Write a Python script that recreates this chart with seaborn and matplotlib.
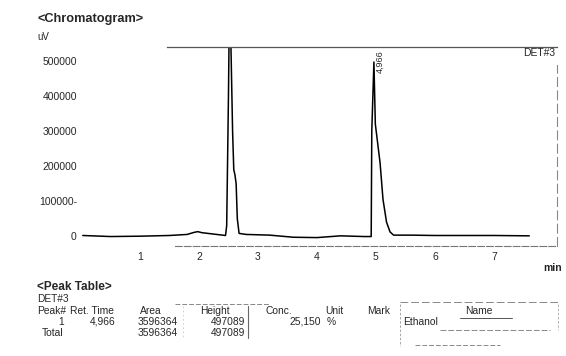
import numpy as np
import pandas as pd
import matplotlib
matplotlib.use("Agg")
import matplotlib.pyplot as plt
from matplotlib.lines import Line2D
import seaborn as sns

# ---- data ----
time_min = [0.03, 0.5, 1.0, 1.5, 1.8, 1.92, 1.98, 2.05, 2.2, 2.35, 2.45, 2.47, 2.50,
            2.51, 2.54, 2.57, 2.59, 2.61, 2.63, 2.65, 2.68, 2.8, 3.2, 3.6, 4.0, 4.4,
            4.8, 4.92, 4.93, 4.966, 4.99, 5.03, 5.07, 5.12, 5.18, 5.24, 5.3, 5.6,
            6.0, 6.5, 7.0, 7.6]
signal_uv = [2000, -1000, 0, 2000, 5000, 11000, 13000, 10000, 7000, 4000, 2000, 30000, 400000,
             560000, 560000, 300000, 190000, 175000, 150000, 50000, 8000, 5000, 3000, -3000, -4000, 1000,
             -1000, -1000, 300000, 497089, 320000, 265000, 210000, 105000, 40000, 12000, 3000, 3000,
             2000, 2000, 2000, 1000]

y_ticks = [0, 100000, 200000, 300000, 400000, 500000]
y_tick_labels = ["0", "100000-", "200000", "300000", "400000", "500000"]
x_ticks = [1, 2, 3, 4, 5, 6, 7]

peak_label = "4,966"
peak_time = 4.966
peak_height = 497089

table_headers = ["Peak#", "Ret. Time", "Area", "Height", "Conc.", "Unit", "Mark", "Name"]
row1 = ["1", "4,966", "3596364", "497089", "25,150", "%", "", "Ethanol"]
total_row = ["Total", "", "3596364", "497089"]

# ---- figure ----
sns.set_style("white")
plt.rcParams["font.family"] = ["Liberation Sans", "DejaVu Sans"]

W, H = 566, 356
fig = plt.figure(figsize=(W / 100, H / 100), dpi=100)

def fx(px):
    return px / W

def fy(py):
    return 1 - py / H

# axes: x=0 at px 81, right edge px 557; bottom px 246, top px 47
ax = fig.add_axes([fx(81), fy(246), fx(557) - fx(81), fy(47) - fy(246)])

df = pd.DataFrame({"t": time_min, "v": signal_uv})
sns.lineplot(data=df, x="t", y="v", ax=ax, color="black", lw=1.1,
             estimator=None, sort=False)

ax.set_xlim(0, 8.07)
ax.set_ylim(-28000, 540000)
ax.set_xlabel("")
ax.set_ylabel("")

ax.set_yticks(y_ticks)
ax.set_yticklabels(y_tick_labels, fontsize=7.5)
ax.tick_params(axis="y", length=0, pad=3)

ax.set_xticks(x_ticks)
ax.set_xticks(np.arange(1.6, 8.01, 0.2), minor=True)
ax.tick_params(axis="x", which="major", length=3.5, width=0.8, direction="out",
               labelsize=7.5, pad=1, color="#444444")
ax.tick_params(axis="x", which="minor", length=2, width=0.6, direction="out",
               color="#777777")

ax.spines["left"].set_visible(False)
ax.spines["top"].set_visible(True)
ax.spines["top"].set_bounds(1.45, 8.07)
ax.spines["top"].set_color("#555555")
ax.spines["top"].set_linewidth(0.9)
ax.spines["right"].set_visible(True)
ax.spines["right"].set_color("#888888")
ax.spines["right"].set_linestyle((0, (8, 4)))
ax.spines["right"].set_linewidth(0.8)
ax.spines["right"].set_bounds(-28000, 490000)
ax.spines["bottom"].set_color("#777777")
ax.spines["bottom"].set_linewidth(0.8)
ax.spines["bottom"].set_linestyle((0, (6, 2)))
ax.spines["bottom"].set_bounds(1.6, 8.07)
ax.patch.set_alpha(0)

# peak label
ax.text(peak_time + 0.1, peak_height, peak_label, rotation=90,
        fontsize=6.5, ha="center", va="center")
ax.text(0.997, 0.995, "DET#3", transform=ax.transAxes, fontsize=7.5,
        ha="right", va="top")

# header texts
fig.text(fx(37), fy(19), "<Chromatogram>", fontsize=9.2, fontweight="bold",
         va="center", ha="left")
fig.text(fx(37), fy(37), "uV", fontsize=7, va="center", ha="left")
fig.text(fx(543), fy(268), "min", fontsize=7.5, fontweight="bold", va="center", ha="left")

# ---- peak table ----
fig.text(fx(37), fy(287), "<Peak Table>", fontsize=8.5, fontweight="bold",
         va="center", ha="left")
fig.text(fx(37), fy(299), "DET#3", fontsize=7.3, va="center", ha="left")

hdr_y = 311
r1_y = 322
tot_y = 333
fs = 7.4
hdr_pos = [(37, "left"), (70, "left"), (140, "left"), (200, "left"),
           (265, "left"), (325, "left"), (367, "left"), (465, "left")]
for (x, al), txt in zip(hdr_pos, table_headers):
    fig.text(fx(x), fy(hdr_y), txt, fontsize=fs, ha=al, va="center")

r1_pos = [(64, "right"), (116, "right"), (178, "right"), (245, "right"),
          (321, "right"), (327, "left"), (380, "left"), (403, "left")]
for (x, al), txt in zip(r1_pos, row1):
    fig.text(fx(x), fy(r1_y), txt, fontsize=fs, ha=al, va="center")

tot_pos = [(42, "left"), (116, "right"), (178, "right"), (245, "right")]
for (x, al), txt in zip(tot_pos, total_row):
    if txt:
        fig.text(fx(x), fy(tot_y), txt, fontsize=fs, ha=al, va="center")

def line(x0, y0, x1, y1, color="#888888", lw=0.7, ls="-"):
    fig.add_artist(Line2D([fx(x0), fx(x1)], [fy(y0), fy(y1)], color=color,
                          lw=lw, ls=ls))

line(175, 304, 270, 304, ls=(0, (5, 2)))
line(248, 306, 248, 338, color="#666666", lw=0.8)
line(183, 306, 183, 338, color="#cccccc", lw=0.6, ls=(0, (2, 3)))
line(400, 302, 560, 302, ls=(0, (8, 3)))
line(460, 318, 512, 318, color="#555555", lw=0.7)
line(440, 330, 550, 330, ls=(0, (6, 2)))
line(415, 345, 500, 345, ls=(0, (5, 2)))
line(400, 304, 400, 346, color="#999999", lw=0.6, ls=(0, (3, 2)))
line(558, 304, 558, 330, color="#aaaaaa", lw=0.6, ls=(0, (3, 2)))

fig.savefig("out.png", dpi=100)
